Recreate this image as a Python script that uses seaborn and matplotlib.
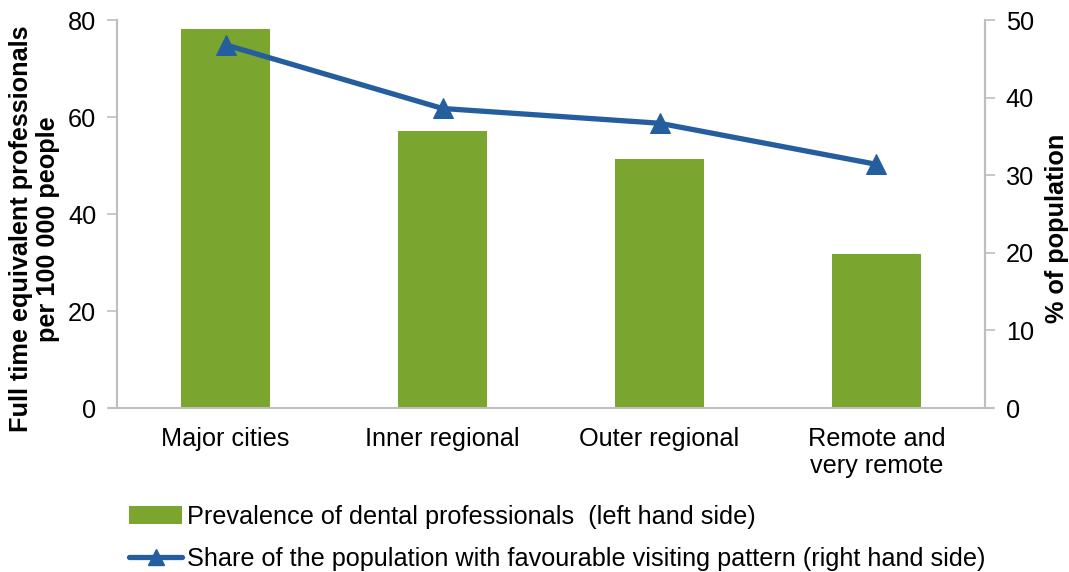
import numpy as np
import pandas as pd
import matplotlib
matplotlib.use("Agg")
import matplotlib.pyplot as plt
import seaborn as sns
from matplotlib.patches import Patch
from matplotlib.lines import Line2D

categories = ["Major cities", "Inner regional", "Outer regional", "Remote and\nvery remote"]
prevalence = [78.1, 57.1, 51.4, 31.7]
share_favourable = [46.8, 38.6, 36.7, 31.4]
left_ticks = [0, 20, 40, 60, 80]
right_ticks = [0, 10, 20, 30, 40, 50]
bar_label = "Prevalence of dental professionals  (left hand side)"
line_label = "Share of the population with favourable visiting pattern (right hand side)"

sns.set_theme(style="white")
plt.rcParams['font.family'] = ['Liberation Sans', 'DejaVu Sans']

GREEN = "#7AA62F"
BLUE = "#255E9F"
GREY = "#BFBFBF"
FS = 18.2

fig = plt.figure(figsize=(10.69, 5.72), dpi=100)
ax = fig.add_axes([0.1095, 0.2867, 0.8119, 0.6783])

df = pd.DataFrame({"cat": categories, "val": prevalence})
sns.barplot(data=df, x="cat", y="val", color=GREEN, width=0.41, ax=ax,
            saturation=1, edgecolor="none")
ax.set_xlim(-0.5, 3.5)
ax.set_ylim(0, 80)
ax.set_yticks(left_ticks)
ax.set_xlabel("")
ax.set_ylabel("Full time equivalent professionals\nper 100 000 people",
              fontsize=FS, fontweight="bold", linespacing=1.15, color="black")
ax.yaxis.set_label_coords(-0.066, 0.461)
ax.tick_params(axis="y", length=7, width=1.2, color=GREY, labelsize=FS, pad=8,
               left=True, labelcolor="black")
ax.tick_params(axis="x", length=0, labelsize=FS, pad=14, bottom=False,
               labelcolor="black")
for lab in ax.get_xticklabels():
    lab.set_linespacing(1.12)
ax.spines["top"].set_visible(False)
for s in ["left", "bottom", "right"]:
    ax.spines[s].set_color(GREY)
    ax.spines[s].set_linewidth(1.5)
ax.spines["bottom"].set_bounds(-0.535, 3.535)

ax2 = ax.twinx()
sns.lineplot(x=np.arange(len(categories)), y=share_favourable, ax=ax2, color=BLUE,
             linewidth=3.8, marker="^", markersize=14, markeredgecolor=BLUE,
             markerfacecolor=BLUE)
ax2.set_ylim(0, 50)
ax2.set_yticks(right_ticks)
ax2.set_ylabel("% of population", fontsize=FS, fontweight="bold", color="black")
ax2.yaxis.set_label_coords(1.0695, 0.464)
ax2.tick_params(axis="y", length=7, width=1.2, color=GREY, labelsize=FS, pad=8,
                right=True, labelcolor="black")
ax2.spines["top"].set_visible(False)
for s in ["left", "bottom", "right"]:
    ax2.spines[s].set_color(GREY)
    ax2.spines[s].set_linewidth(1.5)
ax2.spines["bottom"].set_visible(False)
ax2.set_xlim(-0.5, 3.5)

handles = [Patch(facecolor=GREEN, edgecolor="none"),
           Line2D([0], [0], color=BLUE, linewidth=3.8, marker="^", markersize=11)]
leg = fig.legend(handles, [bar_label, line_label], loc="upper left",
                 bbox_to_anchor=(0.121, 0.118), frameon=False, fontsize=FS,
                 handlelength=2.1, handletextpad=0.2, labelspacing=0.72,
                 borderaxespad=0, borderpad=0)
for t in leg.get_texts():
    t.set_color("black")

fig.savefig("out.png", dpi=100)
